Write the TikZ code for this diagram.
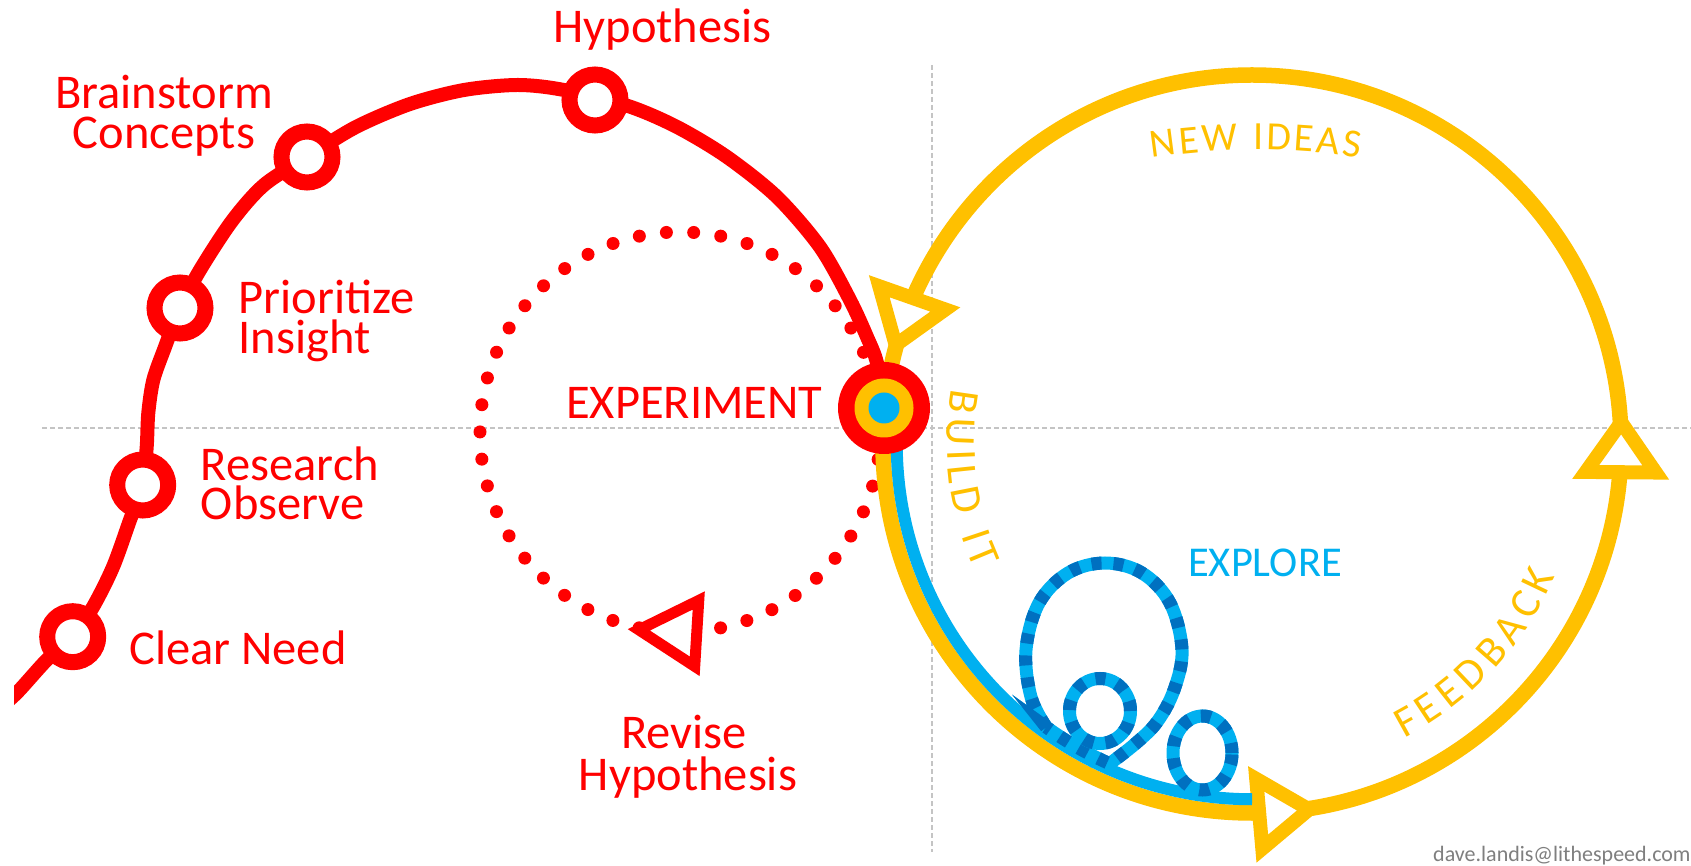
\documentclass[tikz,border=0pt]{standalone}
\usepackage{fontspec}
\setmainfont{Carlito}
\usetikzlibrary{calc}
\definecolor{cred}{HTML}{FF0000}
\definecolor{cylw}{HTML}{FFC000}
\definecolor{clblue}{HTML}{00B0F0}
\definecolor{cdblue}{HTML}{0070C0}
\definecolor{cgray}{HTML}{C4C4C4}
\definecolor{ctext}{HTML}{7F7F7F}
\newcommand\arcfont{}
\newcommand\arcsize{40}
% #1 cx, #2 cy, #3 radius, #4 middle angle, #5 direction (+1 ccw, -1 cw), #6 tracking, #7 letter/width list, #8 name prefix
\newcommand\arclabel[8]{%
  \gdef\arctot{0}%
  \foreach \ch/\cw in {#7}{\pgfmathparse{\arctot+\cw*\arcsize+#6}\xdef\arctot{\pgfmathresult}}%
  \pgfmathparse{\arctot-#6}\xdef\arctot{\pgfmathresult}%
  \pgfmathparse{#4-(#5)*(\arctot/2)/(#3)*57.29578}\xdef\arcstart{\pgfmathresult}%
  \gdef\arcpos{0}%
  \foreach \ch/\cw [count=\ci] in {#7}{%
    \pgfmathsetmacro\arcang{\arcstart+(#5)*(\arcpos+0.5*\cw*\arcsize)/(#3)*57.29578}%
    \node[inner sep=0pt, anchor=base, rotate=\arcang+(#5)*90] (#8\ci) at ($(#1,#2)+(\arcang:#3)$) {\arcfont\ch};
    \pgfmathparse{\arcpos+\cw*\arcsize+#6}\xdef\arcpos{\pgfmathresult}%
  }%
}
\tikzset{
  redlbl/.style={text=cred, font=\fontsize{48.5}{48.5}\selectfont, inner sep=0pt},
  ring/.style={circle, draw=cred, line width=16pt, fill=white, minimum size=51pt, inner sep=0pt},
  redline/.style={draw=cred, line width=14pt},
  ylwline/.style={draw=cylw, line width=15.5pt},
  bluline/.style={draw=clblue, line width=12pt},
  guide/.style={draw=cgray, line width=1.5pt, dash pattern=on 5pt off 3pt},
  dots/.style={draw=cred, line width=13pt, line cap=round, dash pattern=on 0pt off 27.318pt},
  loopline/.style={draw=clblue, line width=13pt, postaction={draw=cdblue, dash pattern=on 10pt off 12pt}},
  opentri/.pic={\draw[pic actions] (25,0) -- (-25,35) -- (-25,-35) -- cycle;},
  redtri/.pic={\draw[pic actions] (29,0) -- (-29,33) -- (-29,-33) -- cycle;},
}
\begin{document}
\begin{tikzpicture}[x=1pt, y=1pt]
\useasboundingbox (0,0) rectangle (1691,865);
\fill[white] (0,0) rectangle (1691,865);
% guides
\draw[guide] (42,437) -- (1691,437);
\draw[guide] (932,800) -- (932,13);
% key points
\coordinate (C) at (1252,421);
\coordinate (D) at (680,433);
\coordinate (cn) at (72.7,228.3);
\coordinate (ro) at (142.7,380);
\coordinate (pi) at (180,557);
\coordinate (bc) at (307,708);
\coordinate (hy) at (595,765);
\coordinate (ex) at (884,457);
\coordinate (st) at (-4,154);
% dotted revise loop
\draw[dots] (D) circle[radius=200];
\path (D) ++(266.5:200) pic[draw=cred, fill=white, line width=11pt, rotate=176.5] {redtri};
% main red path
\begin{scope}
\clip (14,0) rectangle (1691,865);
\draw[redline] plot[smooth, tension=0.5] coordinates {(st) (16.7,172) (46.7,205) (cn) (93,258) (113,298) (130,345) (ro) (146.7,418) (148.3,452) (153.3,485) (165,518) (pi) (200,595) (232,644) (264,680) (bc) (356,738) (410,761) (464,775) (518,780) (564,775) (628,759) (677,738) (727,708) (777,668) (820,618) (850,565) (867,528) (877,502) (ex)};
\end{scope}
\node[ring] (cnr) at (cn) {};
\node[ring] (ror) at (ro) {};
\node[ring] (pir) at (pi) {};
\node[ring] (bcr) at (bc) {};
\node[ring] (hyr) at (hy) {};
% yellow loop
\draw[ylwline] (C) circle[radius=369];
\path (C) ++(160.6:369) pic[draw=cylw, fill=white, line width=14pt, rotate=250.6] {opentri};
\path (C) ++(-0.5:369) pic[draw=cylw, fill=white, line width=14pt, rotate=89.5] {opentri};
\path (C) ++(275:369) pic[draw=cylw, fill=white, line width=14pt, rotate=5] {opentri};
% blue track
\draw[bluline] ($(C)+(176:355.25)$) arc[start angle=176, end angle=270, radius=355.25];
% explore loops
\draw[loopline] plot[smooth, tension=0.6] coordinates {(1046.3,137.8) (1031,168) (1026,215) (1039,262) (1068,292) (1105,302) (1142,292) (1170,262) (1182,215) (1174,175) (1157,143) (1135,121) (1109.6,101.3)} arc[start angle=246, end angle=234, radius=350] -- cycle;
\draw[loopline] (1100,154) ellipse[x radius=30.5, y radius=32.5];
\draw[loopline] (1202.5,112) ellipse[x radius=29.5, y radius=37];
% experiment node
\node[circle, fill=cred, minimum size=92pt, inner sep=0pt] (exr) at (ex) {};
\node[circle, fill=cylw, minimum size=59pt, inner sep=0pt] (exy) at (ex) {};
\node[circle, fill=clblue, minimum size=31pt, inner sep=0pt] (exb) at (ex) {};
% red labels
\node[redlbl, anchor=base] (lhy) at (662.5,822) {Hypothesis};
\node[redlbl, anchor=base] (lbc1) at (164,756) {Brainstorm};
\node[redlbl, anchor=base] (lbc2) at (164,716) {Concepts};
\node[redlbl, anchor=base west] (lpi1) at (238.5,551.7) {Prioritize};
\node[redlbl, anchor=base west] (lpi2) at (238.5,511.7) {Insight};
\node[redlbl, anchor=base west] (lro1) at (200.7,384) {Research};
\node[redlbl, anchor=base west] (lro2) at (200.7,345) {Observe};
\node[redlbl, anchor=base west] (lcn) at (129,200.7) {Clear Need};
\node[redlbl, anchor=base west] (lex) at (566,446.7) {EXPERIMENT};
\node[redlbl, anchor=base] (lrv1) at (684,116.7) {Revise};
\node[redlbl, anchor=base] (lrv2) at (688,75) {Hypothesis};
% yellow labels along arcs
\renewcommand\arcsize{40}
\renewcommand\arcfont{\color{cylw}\fontsize{40}{40}\selectfont}
\arclabel{1256}{15}{700}{90}{-1}{2.9}{N/0.646,E/0.488,W/0.890,~/0.226,I/0.252,D/0.615,E/0.488,A/0.579,S/0.459}{ni}
\renewcommand\arcsize{43}
\renewcommand\arcfont{\color{cylw}\fontsize{43}{43}\selectfont}
\arclabel{1252}{421}{305}{187}{1}{5.3}{B/0.544,U/0.653,I/0.252,L/0.420,D/0.615,~/0.226,I/0.252,T/0.487}{bi}
\arclabel{1252}{421}{331}{316.9}{1}{6.3}{F/0.459,E/0.488,E/0.488,D/0.615,B/0.544,A/0.579,C/0.533,K/0.520}{fb}
\node[anchor=base west, inner sep=0pt, text=clblue, font=\fontsize{42.5}{42.5}\selectfont] (lexp) at (1188,288) {EXPLORE};
\node[anchor=base west, inner sep=0pt, text=ctext, font=\fontsize{22}{22}\selectfont] (credit) at (1433,3.3) {dave.landis@lithespeed.com};
\end{tikzpicture}
\end{document}
